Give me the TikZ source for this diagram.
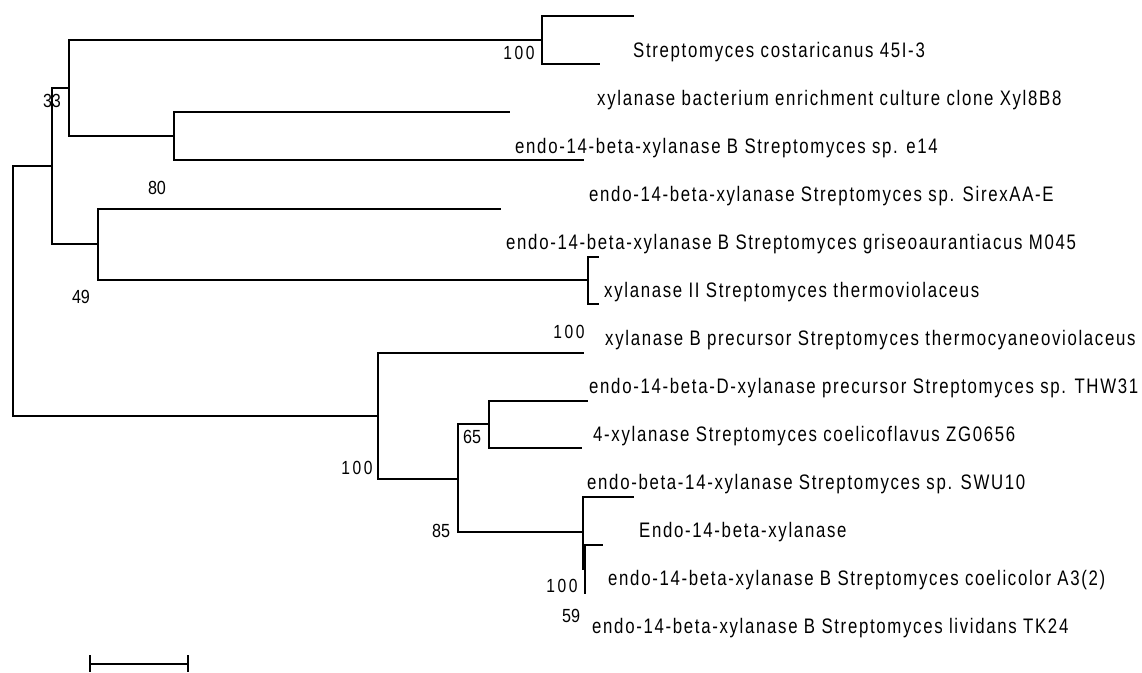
\documentclass[tikz,border=0pt]{standalone}
\usepackage{fontspec}
\newfontfamily\labfont[FakeStretch=0.8,LetterSpace=8]{Liberation Sans}
\newfontfamily\bsfont[FakeStretch=0.85]{Liberation Sans}
\newfontfamily\bswfont[FakeStretch=0.82,LetterSpace=14]{Liberation Sans}
\tikzset{
  branch/.style={line width=1.4pt, line cap=rect},
  leaflab/.style={anchor=base west, inner sep=0pt, font=\labfont\fontsize{21}{21}\selectfont},
  bslab/.style={anchor=base, inner sep=0pt, font=\bsfont\fontsize{19}{19}\selectfont},
  bswlab/.style={anchor=base, inner sep=0pt, font=\bswfont\fontsize{19}{19}\selectfont}
}
\begin{document}
\begin{tikzpicture}[x=1pt,y=-1pt]
\fill[white] (0,0) rectangle (1142,672);
\useasboundingbox (0,0) rectangle (1142,672);
% internal nodes
\coordinate (r) at (13,291);
\coordinate (U) at (52,166);
\coordinate (A) at (69,88);
\coordinate (T1) at (542,40);
\coordinate (E) at (174,136);
\coordinate (B) at (98,244);
\coordinate (F) at (588,280);
\coordinate (L) at (378,416);
\coordinate (G) at (458,479);
\coordinate (H) at (489,424);
\coordinate (C) at (583,532);
\coordinate (D) at (585,569);
% leaf tips
\coordinate (l0) at (633,16);
\coordinate (l1) at (599,64);
\coordinate (l2) at (509,112);
\coordinate (l3) at (583,160);
\coordinate (l4) at (500,209);
\coordinate (l5) at (598,257);
\coordinate (l6) at (598,304);
\coordinate (l7) at (583,353);
\coordinate (l8) at (587,401);
\coordinate (l9) at (581,448);
\coordinate (l10) at (633,497);
\coordinate (l11) at (602,545);
\coordinate (l12) at (585,593);
% branches
\draw[branch] (U) -| (r) |- (L);
\draw[branch] (A) -| (U) |- (B);
\draw[branch] (T1) -| (A) |- (E);
\draw[branch] (l0) -| (T1) |- (l1);
\draw[branch] (l2) -| (E) |- (l3);
\draw[branch] (l4) -| (B) |- (F);
\draw[branch] (l5) -| (F) |- (l6);
\draw[branch] (l7) -| (L) |- (G);
\draw[branch] (H) -| (G) |- (C);
\draw[branch] (l8) -| (H) |- (l9);
\draw[branch] (l10) -| (C) |- (D);
\draw[branch] (l11) -| (D) |- (l12);
% leaf labels
\node[leaflab] (t0) at (633,57) {Streptomyces costaricanus 45I-3};
\node[leaflab] (t1) at (597,105) {xylanase bacterium enrichment culture clone Xyl8B8};
\node[leaflab] (t2) at (515,153) {endo-14-beta-xylanase B Streptomyces sp. e14};
\node[leaflab] (t3) at (589,201) {endo-14-beta-xylanase Streptomyces sp. SirexAA-E};
\node[leaflab] (t4) at (506,249) {endo-14-beta-xylanase B Streptomyces griseoaurantiacus M045};
\node[leaflab] (t5) at (604,297) {xylanase II Streptomyces thermoviolaceus};
\node[leaflab] (t6) at (605,345) {xylanase B precursor Streptomyces thermocyaneoviolaceus};
\node[leaflab] (t7) at (589,393) {endo-14-beta-D-xylanase precursor Streptomyces sp. THW31};
\node[leaflab] (t8) at (593,441) {4-xylanase Streptomyces coelicoflavus ZG0656};
\node[leaflab] (t9) at (587,489) {endo-beta-14-xylanase Streptomyces sp. SWU10};
\node[leaflab] (t10) at (639,537) {Endo-14-beta-xylanase};
\node[leaflab] (t11) at (608,585) {endo-14-beta-xylanase B Streptomyces coelicolor A3(2)};
\node[leaflab] (t12) at (592,633) {endo-14-beta-xylanase B Streptomyces lividans TK24};
% bootstrap values
\node[bswlab] (b1) at (519,59) {100};
\node[bslab] (b2) at (52,107) {33};
\node[bslab] (b3) at (157,194) {80};
\node[bslab] (b4) at (81,303) {49};
\node[bswlab] (b5) at (569,338) {100};
\node[bswlab] (b6) at (357,474) {100};
\node[bslab] (b7) at (472,443) {65};
\node[bslab] (b8) at (441,537) {85};
\node[bswlab] (b9) at (562,592) {100};
\node[bslab] (b10) at (571,622) {59};
% scale bar
\coordinate (sbL) at (90,664);
\coordinate (sbR) at (188,664);
\coordinate (sbLt) at (90,655);
\coordinate (sbLb) at (90,672);
\coordinate (sbRt) at (188,655);
\coordinate (sbRb) at (188,672);
\draw[line width=1.4pt] (sbL) -- (sbR);
\draw[line width=1.4pt] (sbLt) -- (sbLb);
\draw[line width=1.4pt] (sbRt) -- (sbRb);
\end{tikzpicture}
\end{document}
